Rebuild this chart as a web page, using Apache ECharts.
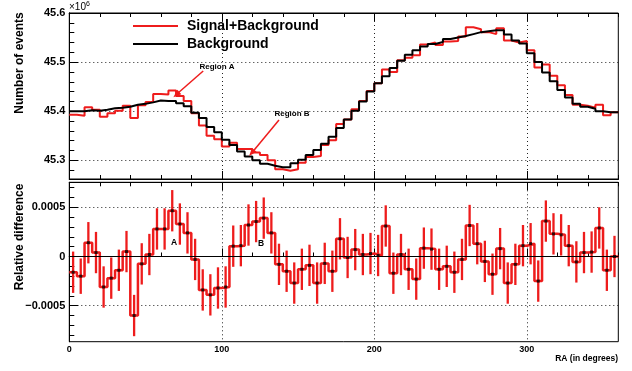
<!DOCTYPE html>
<html><head><meta charset="utf-8">
<script src="https://cdn.jsdelivr.net/npm/echarts@6/dist/echarts.min.js"></script>
<style>html,body{margin:0;padding:0;background:#fff}#c{width:632px;height:371px}</style>
</head><body><div id="c"></div>
<script>
// ---- data (RA bins of 5 degrees, 0..360) ----
const binWidth = 5;
// Number of events, in units of 10^6
const background = [45.400,45.400,45.402,45.401,45.403,45.406,45.407,45.409,45.413,45.415,
45.418,45.422,45.421,45.421,45.416,45.410,45.397,45.386,45.368,45.357,
45.342,45.331,45.318,45.308,45.300,45.293,45.289,45.286,45.286,45.294,
45.301,45.311,45.321,45.334,45.348,45.366,45.383,45.401,45.420,45.440,
45.457,45.471,45.488,45.503,45.515,45.524,45.532,45.537,45.541,45.547,
45.550,45.553,45.557,45.561,45.563,45.565,45.565,45.556,45.544,45.538,
45.518,45.500,45.479,45.461,45.443,45.428,45.415,45.409,45.405,45.400,
45.398,45.398];
const signalBackground = [45.393,45.391,45.408,45.403,45.389,45.396,45.401,45.411,45.386,45.412,
45.419,45.435,45.434,45.442,45.431,45.421,45.396,45.371,45.350,45.343,
45.328,45.336,45.323,45.323,45.316,45.311,45.300,45.282,45.279,45.282,
45.295,45.307,45.309,45.331,45.341,45.374,45.383,45.404,45.421,45.441,
45.457,45.485,45.480,45.504,45.509,45.514,45.536,45.540,45.535,45.542,
45.543,45.552,45.571,45.567,45.561,45.557,45.569,45.544,45.540,45.543,
45.524,45.489,45.495,45.472,45.453,45.433,45.413,45.411,45.407,45.413,
45.392,45.398];
const relDiff = [-0.00016,-0.00020,0.00014,0.00004,-0.00031,-0.00022,-0.00014,0.00005,-0.00060,-0.000075,
0.00002,0.00028,0.00028,0.000465,0.00033,0.00024,-0.00003,-0.00034,-0.00039,-0.00032,
-0.00031,0.000105,0.00011,0.00032,0.000355,0.00039,0.00024,-0.00008,-0.00015,-0.00027,
-0.00013,-0.00009,-0.00027,-0.00007,-0.00015,0.00018,-0.00001,0.00007,0.00002,0.00003,
0.00001,0.00031,-0.00017,0.00002,-0.00013,-0.00023,0.000085,0.000075,-0.00013,-0.00010,
-0.00016,-0.00003,0.000315,0.00013,-0.00005,-0.00018,0.00008,-0.00027,-0.00008,0.00011,
0.00013,-0.00025,0.00036,0.00023,0.00022,0.00011,-0.000055,0.00004,0.000045,0.00029,
-0.00014,0.0];
const relErr = [0.00021,0.00018,0.00021,0.00021,0.00021,0.00021,0.00021,0.00021,0.00021,0.00021,
0.00021,0.00021,0.00021,0.00021,0.00021,0.00021,0.00021,0.00021,0.00021,0.00021,
0.00021,0.00021,0.00021,0.00021,0.00021,0.00021,0.00021,0.00021,0.00021,0.00021,
0.00021,0.00021,0.00021,0.00021,0.00021,0.00021,0.00021,0.00021,0.00021,0.00021,
0.00021,0.00021,0.00021,0.00021,0.00021,0.00021,0.00021,0.00021,0.00021,0.00021,
0.00021,0.00021,0.00021,0.00021,0.00021,0.00021,0.00021,0.00021,0.00021,0.00021,
0.00021,0.00021,0.00021,0.00021,0.00021,0.00021,0.00021,0.00021,0.00021,0.00021,
0.00021,0.00021];
const xMajorTicks = [0, 100, 200, 300];
const topYLabels = [45.3, 45.4, 45.5, 45.6];
const bottomYLabels = [-0.0005, 0, 0.0005];
const seriesNames = ['Signal+Background', 'Background'];

// ---- helpers ----
const FONT = "'Liberation Sans', Arial, Helvetica, sans-serif";
const RED = '#ee1c1c';
function stepData(vals) {
  const d = vals.map((v, i) => [i * binWidth, v]);
  d.push([vals.length * binWidth, vals[vals.length - 1]]);
  return d;
}
function range(a, b, s, digits) {
  const out = [];
  for (let k = 0; a + k * s <= b + s * 1e-6; k++) out.push(+(a + k * s).toFixed(digits));
  return out;
}
const xMinor = range(0, 360, 20, 0).filter(v => v % 100 !== 0);
const topYMinor = range(45.28, 45.58, 0.02, 2);
const botYMinor = range(-0.0008, 0.0007, 0.0001, 4);
const dotted = { color: '#222', width: 1, type: [1, 3] };

function xAxes(gridIndex, withLabels) {
  const base = { type: 'value', gridIndex, min: 0, max: 360, axisLine: { show: true, lineStyle: { color: '#000', width: 1 } } };
  return [
    Object.assign({}, base, { position: 'bottom',
      axisTick: { show: true, inside: true, length: 8, customValues: xMajorTicks, lineStyle: { color: '#000' } },
      axisLabel: { show: withLabels, customValues: xMajorTicks, margin: 3, fontFamily: FONT, fontWeight: 'bold', fontSize: 9, color: '#000' },
      splitLine: { show: true, lineStyle: dotted } }),
    Object.assign({}, base, { position: 'bottom',
      axisTick: { show: true, inside: true, length: 4, customValues: xMinor, lineStyle: { color: '#000' } },
      axisLabel: { show: false }, splitLine: { show: false } }),
    Object.assign({}, base, { position: 'top',
      axisTick: { show: true, inside: true, length: 8, customValues: xMajorTicks, lineStyle: { color: '#000' } },
      axisLabel: { show: false }, splitLine: { show: false } }),
    Object.assign({}, base, { position: 'top',
      axisTick: { show: true, inside: true, length: 4, customValues: xMinor, lineStyle: { color: '#000' } },
      axisLabel: { show: false }, splitLine: { show: false } })
  ];
}
function yAxes(gridIndex, min, max, major, minor, fmt) {
  const base = { type: 'value', gridIndex, min, max, position: 'left', axisLine: { show: true, lineStyle: { color: '#000', width: 1 } } };
  return [
    Object.assign({}, base, {
      axisTick: { show: true, inside: true, length: 9, customValues: major, lineStyle: { color: '#000' } },
      axisLabel: { show: true, customValues: major, margin: 4, formatter: fmt, fontFamily: FONT, fontWeight: 'bold', fontSize: 11, color: '#000' },
      splitLine: { show: true, lineStyle: dotted } }),
    Object.assign({}, base, {
      axisTick: { show: true, inside: true, length: 5, customValues: minor, lineStyle: { color: '#000' } },
      axisLabel: { show: false }, splitLine: { show: false } })
  ];
}

const option = {
  animation: false,
  backgroundColor: '#fff',
  grid: [
    { left: 69.3, top: 13, width: 549, height: 166, show: true, borderColor: '#000', borderWidth: 1, backgroundColor: 'transparent', outerBoundsMode: 'none', containLabel: false },
    { left: 69.3, top: 182.3, width: 549, height: 159.4, show: true, borderColor: '#000', borderWidth: 1, backgroundColor: 'transparent', outerBoundsMode: 'none', containLabel: false }
  ],
  xAxis: [].concat(xAxes(0, false), xAxes(1, true)),
  yAxis: [].concat(
    yAxes(0, 45.262, 45.6, topYLabels, topYMinor, v => v.toFixed(1)),
    yAxes(1, -0.000866, 0.000754, bottomYLabels, botYMinor, v => v === 0 ? '0' : (v < 0 ? '\u2212' : '') + Math.abs(v).toFixed(4))
  ),
  legend: {
    left: 133, top: 19, orient: 'vertical', padding: 0, itemGap: 4,
    itemWidth: 45, itemHeight: 2, icon: 'rect',
    textStyle: { fontFamily: FONT, fontWeight: 'bold', fontSize: 14, color: '#000', padding: [0, 0, 0, 4] },
    data: seriesNames
  },
  graphic: [
    { type: 'text', x: 69, y: 1, style: { text: '\u00d710{s|6}', fontFamily: FONT, fontSize: 10, fill: '#000',
      rich: { s: { fontSize: 7, fontFamily: FONT, verticalAlign: 'top', padding: [0, 0, 6, 0] } } } },
    { type: 'text', x: 20, y: 63, rotation: Math.PI / 2, style: { text: 'Number of events', fontFamily: FONT, fontWeight: 'bold', fontSize: 12, fill: '#000', align: 'center', verticalAlign: 'middle' } },
    { type: 'text', x: 20, y: 237, rotation: Math.PI / 2, style: { text: 'Relative difference', fontFamily: FONT, fontWeight: 'bold', fontSize: 12, fill: '#000', align: 'center', verticalAlign: 'middle' } },
    { type: 'text', x: 618, y: 359, style: { text: 'RA (in degrees)', fontFamily: FONT, fontWeight: 'bold', fontSize: 8.5, fill: '#000', align: 'right', verticalAlign: 'middle' } },
    { type: 'text', x: 217, y: 67, style: { text: 'Region A', fontFamily: FONT, fontWeight: 'bold', fontSize: 8, fill: '#000', align: 'center', verticalAlign: 'middle' } },
    { type: 'text', x: 292, y: 114, style: { text: 'Region B', fontFamily: FONT, fontWeight: 'bold', fontSize: 8, fill: '#000', align: 'center', verticalAlign: 'middle' } },
    { type: 'text', x: 174, y: 243, style: { text: 'A', fontFamily: FONT, fontWeight: 'bold', fontSize: 8.5, fill: '#000', align: 'center', verticalAlign: 'middle' } },
    { type: 'text', x: 261, y: 244, style: { text: 'B', fontFamily: FONT, fontWeight: 'bold', fontSize: 8.5, fill: '#000', align: 'center', verticalAlign: 'middle' } }
  ],
  series: [
    { name: seriesNames[0], type: 'line', xAxisIndex: 0, yAxisIndex: 0, step: 'end', symbol: 'none',
      data: stepData(signalBackground), color: RED, lineStyle: { color: RED, width: 2 }, z: 3,
      markLine: { silent: true, symbol: ['none', 'triangle'], symbolSize: [6, 8], label: { show: false },
        lineStyle: { color: RED, width: 1.5, type: 'solid' },
        data: [
          [{ coord: [87.8, 45.482] }, { coord: [70.2, 45.434] }],
          [{ coord: [137.5, 45.382] }, { coord: [119.6, 45.315] }]
        ] } },
    { name: seriesNames[1], type: 'line', xAxisIndex: 0, yAxisIndex: 0, step: 'end', symbol: 'none',
      data: stepData(background), color: '#000', lineStyle: { color: '#000', width: 2 }, z: 4 },
    { name: 'relstep', type: 'line', xAxisIndex: 4, yAxisIndex: 2, step: 'end', symbol: 'none',
      data: stepData(relDiff), lineStyle: { color: RED, width: 2.5 }, z: 3,
      markLine: { silent: true, symbol: 'none', label: { show: false }, lineStyle: { color: '#000', width: 1, type: 'solid' }, data: [{ yAxis: 0 }] } },
    { name: 'relerr', type: 'custom', xAxisIndex: 4, yAxisIndex: 2, z: 4,
      data: relDiff.map((v, i) => [(i + 0.5) * binWidth, v - relErr[i], v + relErr[i]]),
      encode: { x: 0, y: [1, 2] },
      renderItem: (params, api) => {
        const x = api.value(0);
        const lo = api.coord([x, api.value(1)]);
        const hi = api.coord([x, api.value(2)]);
        return { type: 'line', shape: { x1: lo[0], y1: lo[1], x2: hi[0], y2: hi[1] }, style: { stroke: RED, lineWidth: 2.3 } };
      } },
    { name: 'relpts', type: 'scatter', xAxisIndex: 4, yAxisIndex: 2, z: 5, symbol: 'rect', symbolSize: 3,
      itemStyle: { color: '#000' }, data: relDiff.map((v, i) => [(i + 0.5) * binWidth, v]) }
  ]
};
const chart = echarts.init(document.getElementById('c'), null, { renderer: 'canvas' });
chart.setOption(option);
</script></body></html>
